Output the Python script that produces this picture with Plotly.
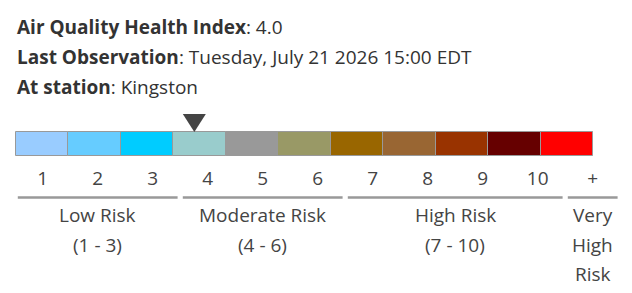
import plotly.graph_objects as go

# ---- data ----
AQHI_VALUE = 4.0
OBS_TIME = "Tuesday, July 21 2026 15:00 EDT"
STATION = "Kingston"
LEVELS = [1, 2, 3, 4, 5, 6, 7, 8, 9, 10, 11]
LEVEL_LABELS = ["1", "2", "3", "4", "5", "6", "7", "8", "9", "10", "+"]
LEVEL_COLORS = ["#99CCFF", "#66CCFF", "#00CCFF", "#99CCCC", "#999999", "#999966",
                "#996600", "#996633", "#993300", "#660000", "#FF0000"]
GROUP_START = [1, 4, 7, 11]
GROUP_END = [3, 6, 10, 11]
GROUP_LINES = [["Low Risk", "(1 - 3)"], ["Moderate Risk", "(4 - 6)"],
               ["High Risk", "(7 - 10)"], ["Very", "High", "Risk"]]

W, H = 632, 293
FONT = "Open Sans"
TXT = "#444444"
FS = 19

# pixel geometry of the colour bar and the table below
BAR_LEFT, BAR_CELL = 16.0, 52.45
TAB_FIRST, TAB_CELL = 42.7, 55.0
BAR_TOP, BAR_H = 132, 24

x1_min = LEVELS[0] - (BAR_LEFT + BAR_CELL / 2) / BAR_CELL
x2_min = LEVELS[0] - TAB_FIRST / TAB_CELL

fig = go.Figure()

fig.add_trace(go.Bar(
    x=LEVELS, y=[BAR_H] * len(LEVELS), base=BAR_TOP, width=1,
    marker=dict(color=LEVEL_COLORS, line=dict(color="#999999", width=1)),
    xaxis="x", yaxis="y", hoverinfo="skip", showlegend=False,
))

fig.add_trace(go.Scatter(
    x=LEVELS, y=[180] * len(LEVELS), mode="text", text=LEVEL_LABELS,
    textfont=dict(family=FONT, size=FS, color=TXT),
    xaxis="x2", yaxis="y", hoverinfo="skip", showlegend=False,
))

shapes = []
annotations = []
inset = 2.6 / TAB_CELL
for s, e, lines in zip(GROUP_START, GROUP_END, GROUP_LINES):
    shapes.append(dict(type="line", xref="x2", yref="y",
                       x0=s - 0.5 + inset, x1=e + 0.5 - inset, y0=197.5, y1=197.5,
                       line=dict(color="#999999", width=2.5)))
    for i, t in enumerate(lines):
        annotations.append(dict(xref="x2", yref="y", x=(s + e) / 2, y=215 + 29.7 * i,
                                text=t, showarrow=False, xanchor="center", yanchor="middle",
                                font=dict(family=FONT, size=FS, color=TXT)))

# marker triangle at current value
shapes.append(dict(type="path", xref="x", yref="y", xsizemode="pixel", xanchor=AQHI_VALUE - 0.1,
                   path="M-11.5,114 L11.5,114 L0,132 Z",
                   fillcolor="#444444", line=dict(width=0)))

header = [
    ("Air Quality Health Index", f"{AQHI_VALUE:.1f}", 27),
    ("Last Observation", OBS_TIME, 57),
    ("At station", STATION, 86.5),
]
for b, v, y in header:
    annotations.append(dict(xref="paper", yref="y", x=15 / W, y=y, text=f"<b>{b}</b>: {v}",
                            showarrow=False, xanchor="left", yanchor="middle",
                            font=dict(family=FONT, size=FS, color="#333333")))

fig.update_layout(
    width=W, height=H, margin=dict(l=0, r=0, t=0, b=0),
    paper_bgcolor="white", plot_bgcolor="white",
    xaxis=dict(range=[x1_min, x1_min + W / BAR_CELL], visible=False, fixedrange=True),
    xaxis2=dict(range=[x2_min, x2_min + W / TAB_CELL], visible=False, overlaying="x", fixedrange=True),
    yaxis=dict(range=[H, 0], visible=False, fixedrange=True),
    shapes=shapes, annotations=annotations, bargap=0,
)

fig.write_html("out.html")
